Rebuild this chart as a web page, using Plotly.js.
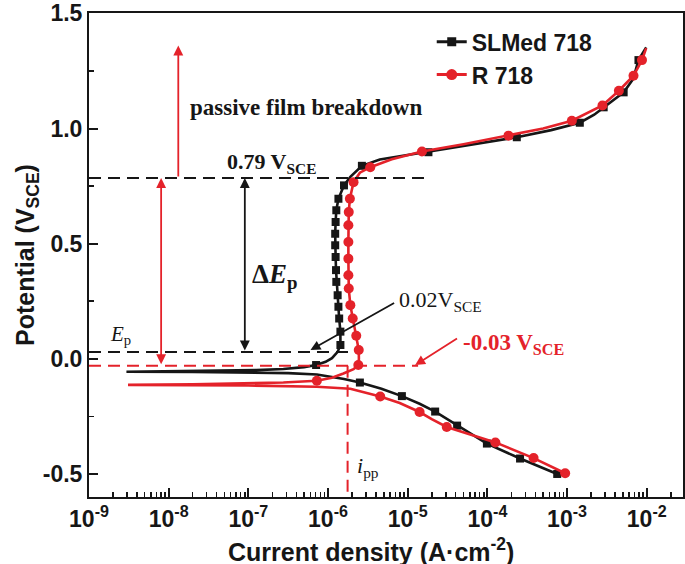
<!DOCTYPE html>
<html><head><meta charset="utf-8">
<script src="https://cdn.plot.ly/plotly-3.0.1.min.js"></script>
<style>html,body{margin:0;padding:0;background:#fff;} #chart{width:685px;height:564px;}</style>
</head><body><div id="chart"></div>
<script>
// ---- data (current density in A/cm2, potential in V_SCE) ----
const slmCurrent = [7.52e-4, 2.57e-4, 9.86e-5, 4.17e-5, 2.21e-5, 1.41e-5, 8.45e-6, 4.68e-6, 2.51e-6, 1.585e-6,
  1.07e-6, 7.24e-7, 3.16e-7, 1.0e-7, 2.0e-8, 2.95e-9, 2.51e-8, 1.26e-7, 2.75e-7, 5.01e-7,
  7.08e-7, 9.33e-7, 1.12e-6, 1.32e-6, 1.43e-6, 1.43e-6, 1.38e-6, 1.35e-6, 1.32e-6, 1.27e-6,
  1.26e-6, 1.245e-6, 1.23e-6, 1.23e-6, 1.245e-6, 1.27e-6, 1.35e-6, 1.585e-6, 1.905e-6, 2.66e-6,
  4.47e-6, 8.91e-6, 1.82e-5, 6.31e-5, 2.34e-4, 6.31e-4, 1.445e-3, 2.19e-3, 2.88e-3, 5.13e-3,
  6.76e-3, 7.87e-3, 9.84e-3];
const slmPotential = [-0.500, -0.433, -0.368, -0.290, -0.229, -0.195, -0.162, -0.130, -0.103, -0.088,
  -0.077, -0.068, -0.062, -0.059, -0.057, -0.056, -0.053, -0.049, -0.044, -0.036,
  -0.027, -0.013, 0.003, 0.030, 0.060, 0.118, 0.175, 0.226, 0.276, 0.334,
  0.385, 0.442, 0.493, 0.543, 0.594, 0.645, 0.695, 0.753, 0.790, 0.838,
  0.865, 0.882, 0.897, 0.928, 0.962, 0.993, 1.025, 1.060, 1.092, 1.157,
  1.215, 1.297, 1.352];
const slmMarkerIdx = [0, 1, 2, 3, 4, 6, 8, 20, 24, 25, 26, 27, 28, 29, 30, 31, 32, 33, 34, 35, 36, 37, 39, 42, 44, 46, 48, 49, 51];

const rCurrent = [9.46e-4, 3.80e-4, 1.26e-4, 6.31e-5, 3.09e-5, 2.0e-5, 1.41e-5, 7.94e-6, 4.52e-6, 1.905e-6,
  7.24e-7, 1.0e-7, 1.585e-8, 3.09e-9, 2.0e-8, 1.0e-7, 2.75e-7, 7.24e-7, 1.12e-6, 1.56e-6,
  2.09e-6, 2.40e-6, 2.44e-6, 2.43e-6, 2.26e-6, 2.04e-6, 1.905e-6, 1.82e-6, 1.80e-6, 1.80e-6,
  1.80e-6, 1.80e-6, 1.82e-6, 1.88e-6, 2.09e-6, 2.51e-6, 3.39e-6, 6.31e-6, 1.51e-5, 5.01e-5,
  1.84e-4, 5.01e-4, 1.148e-3, 2.78e-3, 4.47e-3, 6.82e-3, 8.71e-3, 9.84e-3];
const rPotential = [-0.497, -0.431, -0.363, -0.330, -0.296, -0.262, -0.231, -0.192, -0.164, -0.130,
  -0.121, -0.116, -0.114, -0.113, -0.111, -0.108, -0.103, -0.095, -0.082, -0.064,
  -0.045, -0.027, 0.000, 0.038, 0.100, 0.175, 0.233, 0.305, 0.363, 0.435,
  0.507, 0.580, 0.637, 0.695, 0.767, 0.808, 0.832, 0.866, 0.900, 0.932,
  0.969, 1.000, 1.034, 1.100, 1.164, 1.229, 1.297, 1.349];
const rMarkerIdx = [0, 1, 2, 4, 6, 8, 17, 21, 23, 24, 25, 26, 27, 28, 29, 30, 31, 32, 33, 34, 36, 38, 40, 42, 43, 44, 45, 46];

const seriesNames = ['SLMed 718', 'R 718'];
const xTickExponents = [-9, -8, -7, -6, -5, -4, -3, -2];
const yTickValues = [-0.5, 0, 0.5, 1.0, 1.5];
const yTickLabels = ['-0.5', '0.0', '0.5', '1.0', '1.5'];
const xTitle = 'Current density (A·cm<sup>-2</sup>)';
const yTitle = 'Potential (V<sub>SCE</sub>)';

// annotated characteristic values
const breakdownPotential = 0.785;   // "0.79 V_SCE"
const passivationPotential = 0.03;  // "0.02 V_SCE" (E_p)
const corrosionPotential = -0.03;   // "-0.03 V_SCE"
const ippCurrent = 1.76e-6;         // i_pp

// ---- styling ----
const BLACK = '#161616';
const RED = '#e4222a';
const SANS = 'Liberation Sans, Arial, sans-serif';
const SERIF = 'Liberation Serif, Times New Roman, serif';
const lg = Math.log10;
const pick = (arr, idx) => idx.map(i => arr[i]);

const traces = [
  {x: slmCurrent, y: slmPotential, mode: 'lines', line: {color: BLACK, width: 2.6}, showlegend: false, hoverinfo: 'skip'},
  {x: pick(slmCurrent, slmMarkerIdx), y: pick(slmPotential, slmMarkerIdx), mode: 'markers',
   marker: {symbol: 'square', size: 8, color: BLACK}, showlegend: false},
  {x: [null], y: [null], name: seriesNames[0], mode: 'lines+markers',
   line: {color: BLACK, width: 3}, marker: {symbol: 'square', size: 9, color: BLACK}},
  {x: rCurrent, y: rPotential, mode: 'lines', line: {color: RED, width: 2.6}, showlegend: false, hoverinfo: 'skip'},
  {x: pick(rCurrent, rMarkerIdx), y: pick(rPotential, rMarkerIdx), mode: 'markers',
   marker: {symbol: 'circle', size: 10, color: RED}, showlegend: false},
  {x: [null], y: [null], name: seriesNames[1], mode: 'lines+markers',
   line: {color: RED, width: 3}, marker: {symbol: 'circle', size: 11, color: RED}}
];

const dashStyle = '12px,7px';
const shapes = [
  {type: 'line', xref: 'x', yref: 'y', x0: 1e-9, x1: 1.6e-5, y0: breakdownPotential, y1: breakdownPotential,
   line: {color: BLACK, width: 2, dash: dashStyle}},
  {type: 'line', xref: 'x', yref: 'y', x0: 1e-9, x1: 1.85e-6, y0: passivationPotential, y1: passivationPotential,
   line: {color: BLACK, width: 2, dash: dashStyle}},
  {type: 'line', xref: 'x', yref: 'y', x0: 1e-9, x1: 1.35e-5, y0: corrosionPotential, y1: corrosionPotential,
   line: {color: RED, width: 2, dash: dashStyle}},
  {type: 'line', xref: 'x', yref: 'y', x0: ippCurrent, x1: ippCurrent, y0: corrosionPotential, y1: -0.6,
   line: {color: RED, width: 2, dash: dashStyle}}
];

function arrow(xTip, yTip, xTail, yTail, color, both) {
  return {x: lg(xTip), y: yTip, ax: lg(xTail), ay: yTail, xref: 'x', yref: 'y', axref: 'x', ayref: 'y',
    showarrow: true, arrowhead: 2, startarrowhead: 2, arrowsize: 1.1, startarrowsize: 1.1, arrowwidth: 1.8,
    arrowcolor: color, arrowside: both ? 'end+start' : 'end', standoff: 0, startstandoff: 0, text: ''};
}
function label(xVal, yVal, text, size, color, family) {
  return {x: lg(xVal), y: yVal, xref: 'x', yref: 'y', text: text, showarrow: false,
    xanchor: 'left', yanchor: 'middle', font: {family: family || SERIF, size: size, color: color || BLACK}};
}

const annotations = [
  arrow(1.32e-8, 1.36, 1.32e-8, breakdownPotential, RED, false),
  arrow(8.04e-9, breakdownPotential, 8.04e-9, corrosionPotential, RED, true),
  arrow(9.03e-8, breakdownPotential, 9.03e-8, passivationPotential, BLACK, true),
  arrow(6.03e-7, 0.038, 7.05e-6, 0.246, BLACK, false),
  arrow(1.24e-5, -0.027, 4.34e-5, 0.092, RED, false),
  label(1.76e-8, 1.092, '<b>passive film breakdown</b>', 23),
  label(5.13e-8, 0.852, '<b>0.79 V<sub>SCE</sub></b>', 22),
  label(1.05e-7, 0.36, '<b>Δ<i>E</i><sub>p</sub></b>', 27),
  label(1.75e-9, 0.103, '<i>E</i><sub>p</sub>', 21),
  label(7.4e-6, 0.25, '0.02V<sub>SCE</sub>', 22),
  label(4.7e-5, 0.064, '<b>-0.03 V<sub>SCE</sub></b>', 23, RED),
  label(2.19e-6, -0.47, '<i>i</i><sub>pp</sub>', 22),
  // x-axis title, placed like the reference (slightly left of the plot centre)
  {xref: 'paper', yref: 'paper', x: 0.475, y: -0.11, xanchor: 'center', yanchor: 'middle', showarrow: false,
   text: '<b>' + xTitle + '</b>', font: {family: SANS, size: 25, color: BLACK}}
];

const layout = {
  width: 685, height: 564,
  margin: {l: 89, r: 2, t: 13, b: 67},
  paper_bgcolor: '#ffffff', plot_bgcolor: '#ffffff',
  showlegend: true,
  legend: {x: 0.577, xanchor: 'left', y: 0.985, yanchor: 'top', bgcolor: 'rgba(0,0,0,0)',
    font: {family: SANS, size: 23, color: BLACK, weight: 'bold'}, tracegroupgap: 0, itemsizing: 'trace'},
  xaxis: {
    type: 'log', range: [-9, -1.545],
    tickvals: xTickExponents.map(e => Math.pow(10, e)),
    ticktext: xTickExponents.map(e => '10<sup>' + e + '</sup>'),
    ticks: 'inside', ticklen: 9, tickwidth: 2, tickcolor: BLACK, ticklabeloverflow: 'allow',
    minor: {dtick: 'D1', ticks: 'inside', ticklen: 5, tickwidth: 1.6, tickcolor: BLACK},
    showline: true, linecolor: BLACK, linewidth: 2, mirror: true, showgrid: false, zeroline: false,
    tickfont: {family: SANS, size: 23, color: BLACK, weight: 'bold'}
  },
  yaxis: {
    range: [-0.6, 1.5015],
    tickvals: yTickValues, ticktext: yTickLabels,
    ticks: 'inside', ticklen: 9, tickwidth: 2, tickcolor: BLACK, ticklabeloverflow: 'allow',
    minor: {dtick: 0.25, ticks: 'inside', ticklen: 5, tickwidth: 1.6, tickcolor: BLACK},
    showline: true, linecolor: BLACK, linewidth: 2, mirror: true, showgrid: false, zeroline: false,
    tickfont: {family: SANS, size: 23, color: BLACK, weight: 'bold'},
    title: {text: yTitle, font: {family: SANS, size: 25, color: BLACK, weight: 'bold'}, standoff: 1}
  },
  shapes: shapes,
  annotations: annotations
};

Plotly.newPlot('chart', traces, layout, {displayModeBar: false, staticPlot: true});
</script>
</body></html>
